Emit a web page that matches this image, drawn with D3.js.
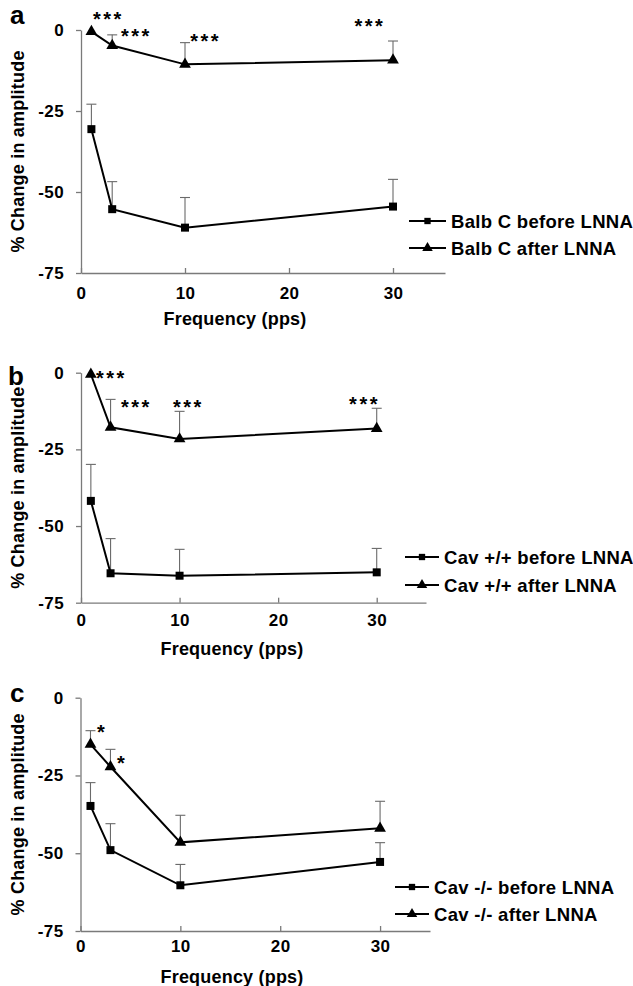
<!DOCTYPE html>
<html>
<head>
<meta charset="utf-8">
<script src="https://cdn.jsdelivr.net/npm/d3@7"></script>
<style>
  html, body { margin: 0; padding: 0; background: #fff; }
  svg { display: block; }
  text { font-family: "Liberation Sans", Arial, sans-serif; }
</style>
</head>
<body>
<svg id="chart" width="633" height="986"></svg>
<script>
// ---------- DATA ----------
const frequency = [1, 3, 10, 30];
const xTicks = [0, 10, 20, 30];
const yTicks = [0, -25, -50, -75];

// Panel a: Balb C
const aBefore    = [-30.6, -55.3, -61.0, -54.5];
const aBeforeErr = [7.7, 8.5, 9.3, 8.4];
const aAfter     = [-0.5, -4.8, -10.6, -9.3];
const aAfterErr  = [0, 3.3, 6.7, 5.9];
const aLabels    = ["Balb C before LNNA", "Balb C after LNNA"];
const aStarX     = [1.15, 3.85, 10.5, 26.3];
const aStarY     = [4.9, -0.6, -2.1, 2.5];
const aStarText  = ["***", "***", "***", "***"];

// Panel b: Cav +/+
const bBefore    = [-41.8, -65.4, -66.2, -65.1];
const bBeforeErr = [11.9, 11.3, 8.6, 7.8];
const bAfter     = [-0.5, -17.8, -21.6, -18.2];
const bAfterErr  = [0, 9.1, 9.0, 6.6];
const bLabels    = ["Cav +/+ before LNNA", "Cav +/+ after LNNA"];
const bStarX     = [1.52, 4.06, 9.33, 27.2];
const bStarY     = [-0.4, -9.6, -9.6, -8.9];
const bStarText  = ["***", "***", "***", "***"];

// Panel c: Cav -/-
const cBefore    = [-34.8, -49.0, -60.3, -52.8];
const cBeforeErr = [7.5, 8.5, 6.7, 6.2];
const cAfter     = [-15.0, -22.2, -46.5, -42.0];
const cAfterErr  = [4.4, 5.6, 8.7, 8.7];
const cLabels    = ["Cav -/- before LNNA", "Cav -/- after LNNA"];
const cStarX     = [1.65, 3.66];
const cStarY     = [-9.7, -19.7];
const cStarText  = ["*", "*"];

const panelLetters = ["a", "b", "c"];
const yTitle = "% Change in amplitude";
const xTitle = "Frequency (pps)";

// ---------- LAYOUT ----------
const panels = [
  { letter: panelLetters[0], before: aBefore, beforeErr: aBeforeErr, after: aAfter, afterErr: aAfterErr,
    labels: aLabels, starX: aStarX, starY: aStarY, starText: aStarText,
    x0: 81, x1: 445, y0: 30, y1: 273, tickPad: 14, titleX: 235,
    letterX: 10, letterY: 24, legX: 409, legLine: 37, legY: [221, 248] },
  { letter: panelLetters[1], before: bBefore, beforeErr: bBeforeErr, after: bAfter, afterErr: bAfterErr,
    labels: bLabels, starX: bStarX, starY: bStarY, starText: bStarText,
    x0: 81, x1: 426, y0: 372.7, y1: 602.7, tickPad: 11, titleX: 232,
    letterX: 8, letterY: 385, legX: 405, legLine: 34, legY: [557, 585] },
  { letter: panelLetters[2], before: cBefore, beforeErr: cBeforeErr, after: cAfter, afterErr: cAfterErr,
    labels: cLabels, starX: cStarX, starY: cStarY, starText: cStarText,
    x0: 80.5, x1: 430, y0: 697.7, y1: 931, tickPad: 9, titleX: 232,
    letterX: 10, letterY: 702, legX: 395, legLine: 34, legY: [887, 914] }
];

const svg = d3.select("#chart");
const axisColor = "#7a7a7a";
const errColor = "#6a6a6a";

const squareSym = d3.symbol().type(d3.symbolSquare);
const triSym = d3.symbol().type(d3.symbolTriangle);

panels.forEach(p => {
  const g = svg.append("g");
  const x = d3.scaleLinear().domain([0, 35]).range([p.x0, p.x1]);
  const y = d3.scaleLinear().domain([-75, 0]).range([p.y1, p.y0]);

  // Y axis
  const yAxis = d3.axisLeft(y).tickValues(yTicks).tickSize(5).tickPadding(12).tickSizeOuter(0);
  const yg = g.append("g").attr("transform", `translate(${p.x0},0)`).call(yAxis);
  yg.select(".domain").attr("stroke", axisColor).attr("stroke-width", 1.3);
  yg.selectAll(".tick line").attr("stroke", axisColor).attr("stroke-width", 1.3);
  yg.selectAll(".tick text").attr("fill", "#000").style("font-size", "17px").style("font-weight", "bold")
    .style("letter-spacing", "0.4px")
    .text(d => d === 0 ? "0" : String(d));

  // X axis
  const xAxis = d3.axisBottom(x).tickValues(xTicks).tickSize(-5).tickPadding(p.tickPad).tickSizeOuter(0);
  const xg = g.append("g").attr("transform", `translate(0,${p.y1})`).call(xAxis);
  xg.select(".domain").attr("stroke", axisColor).attr("stroke-width", 1.3);
  xg.selectAll(".tick line").attr("stroke", axisColor).attr("stroke-width", 1.3);
  xg.selectAll(".tick text").attr("fill", "#000").style("font-size", "17px").style("font-weight", "bold")
    .style("letter-spacing", "0.4px")
    .attr("dy", "0.71em");

  // Titles
  g.append("text").attr("x", p.titleX).attr("y", p.y1 + 52)
    .attr("text-anchor", "middle").style("font-size", "18px").style("font-weight", "bold")
    .style("letter-spacing", "0.2px")
    .text(xTitle);
  g.append("text")
    .attr("transform", `translate(24,${(p.y0 + p.y1) / 2}) rotate(-90)`)
    .attr("text-anchor", "middle").style("font-size", "18px").style("font-weight", "bold")
    .style("letter-spacing", "0.2px")
    .text(yTitle);
  g.append("text").attr("x", p.letterX).attr("y", p.letterY)
    .style("font-size", "26px").style("font-weight", "bold").text(p.letter);

  const series = [
    { vals: p.before, err: p.beforeErr, sym: squareSym, size: 64 },
    { vals: p.after, err: p.afterErr, sym: triSym, size: 60 }
  ];

  // Error bars
  series.forEach(s => {
    const eb = g.append("g").attr("stroke", errColor).attr("stroke-width", 1.1);
    frequency.forEach((f, i) => {
      if (s.err[i] <= 0) return;
      const cx = x(f), yv = y(s.vals[i]), yt = y(s.vals[i] + s.err[i]);
      eb.append("line").attr("x1", cx).attr("x2", cx).attr("y1", yv).attr("y2", yt);
      eb.append("line").attr("x1", cx - 5).attr("x2", cx + 5).attr("y1", yt).attr("y2", yt);
    });
  });

  // Lines & markers
  const line = d3.line().x((d, i) => x(frequency[i])).y(d => y(d));
  series.forEach(s => {
    g.append("path").datum(s.vals).attr("d", line)
      .attr("fill", "none").attr("stroke", "#000").attr("stroke-width", 2);
    g.selectAll(null).data(s.vals).enter().append("path")
      .attr("d", s.sym.size(s.size)())
      .attr("transform", (d, i) => `translate(${x(frequency[i])},${y(d)})`)
      .attr("fill", "#000");
  });

  // Significance stars
  p.starText.forEach((t, i) => {
    g.append("text").attr("x", x(p.starX[i])).attr("y", y(p.starY[i]) + 11.5)
      .style("font-size", "20px").style("font-weight", "bold").style("letter-spacing", "2.5px")
      .text(t);
  });

  // Legend
  const syms = [squareSym.size(40)(), triSym.size(48)()];
  p.labels.forEach((lab, i) => {
    const ly = p.legY[i];
    g.append("line").attr("x1", p.legX).attr("x2", p.legX + p.legLine)
      .attr("y1", ly).attr("y2", ly).attr("stroke", "#000").attr("stroke-width", 2);
    g.append("path").attr("d", syms[i])
      .attr("transform", `translate(${p.legX + p.legLine / 2},${ly})`).attr("fill", "#000");
    g.append("text").attr("x", p.legX + p.legLine + 5).attr("y", ly).attr("dy", "0.36em")
      .style("font-size", "18.5px").style("font-weight", "bold").style("letter-spacing", "0.3px").text(lab);
  });
});
</script>
</body>
</html>
